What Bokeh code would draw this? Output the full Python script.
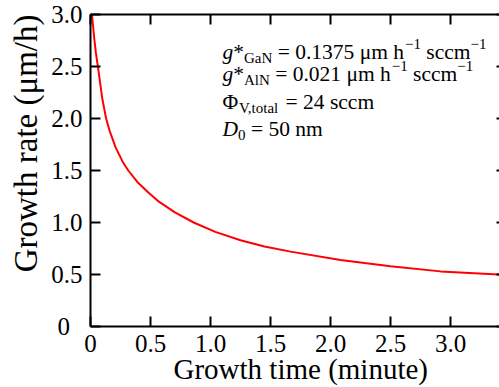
from bokeh.plotting import figure
from bokeh.models import Range1d, LinearAxis, FixedTicker, Label, Title
from bokeh.embed import file_html
from bokeh.resources import INLINE

# ---------------- data ----------------
time_min = [0.012, 0.033, 0.045, 0.064, 0.097, 0.13, 0.16, 0.21, 0.27, 0.315, 0.39, 0.48,
            0.57, 0.70, 0.86, 1.04, 1.25, 1.45, 1.667, 2.083, 2.5, 2.917, 3.4, 3.47]
growth_rate = [3.0, 2.75, 2.63, 2.48, 2.2, 2.0, 1.88, 1.72, 1.58, 1.5, 1.39, 1.29,
               1.2, 1.1, 1.0, 0.91, 0.83, 0.77, 0.72, 0.64, 0.58, 0.53, 0.50, 0.49]

x_ticks = [0, 0.5, 1.0, 1.5, 2.0, 2.5, 3.0]
x_tick_labels = ["0", "0.5", "1.0", "1.5", "2.0", "2.5", "3.0"]
y_ticks = [0, 0.5, 1.0, 1.5, 2.0, 2.5, 3.0]
y_tick_labels = ["0\u00a0\u00a0", "0.5", "1.0", "1.5", "2.0", "2.5", "3.0"]

x_title = "Growth time (minute)"
y_title = "Growth rate (μm/h)"

# annotation lines: (text, kind) kind: n=normal, i=italic, sub, sup
ann_lines = [
    [("g", "i"), ("*", "n"), ("GaN", "sub"), (" = 0.1375 μm h", "n"), ("−1", "sup"), (" sccm", "n"), ("−1", "sup")],
    [("g", "i"), ("*", "n"), ("AlN", "sub"), (" = 0.021 μm h", "n"), ("−1", "sup"), (" sccm", "n"), ("−1", "sup")],
    [("Φ", "n"), ("V,total", "sub"), (" = 24 sccm", "n")],
    [("D", "i"), ("0", "sub"), (" = 50 nm", "n")],
]

# ---------------- layout ----------------
FONT = "Liberation Serif"
W, H = 499, 387
FL, FT = 90, 14
FRAME_H = 312
FB = H - FT - FRAME_H
FRAME_W = W - FL
X_END = FRAME_W / 120.0
Y_END = 3.0


def px2x(px):
    return (px - FL) / FRAME_W * X_END


def px2y(py):
    return (FT + FRAME_H - py) / FRAME_H * Y_END


p = figure(width=W, height=H, x_range=Range1d(0, X_END), y_range=Range1d(0, Y_END),
           output_backend="svg", toolbar_location=None,
           min_border_left=FL, min_border_right=0, min_border_top=FT, min_border_bottom=FB)
p.outline_line_color = None
p.xgrid.visible = False
p.ygrid.visible = False
p.background_fill_color = "white"
p.border_fill_color = "white"

p.line(time_min, growth_rate, line_color="#ff0000", line_width=2)


def style(ax, ticks, labels, standoff, show_labels=True, line=True, tick_in=10):
    ax.ticker = FixedTicker(ticks=ticks)
    ax.major_label_overrides = {t: l for t, l in zip(ticks, labels)}
    ax.minor_tick_line_color = None
    ax.major_tick_in = tick_in
    ax.major_tick_out = 0
    ax.major_tick_line_width = 2
    ax.major_tick_line_color = "black"
    ax.axis_line_width = 2
    ax.axis_line_color = "black" if line else None
    ax.major_label_standoff = standoff
    ax.major_label_text_font = FONT
    ax.major_label_text_color = "black"
    if show_labels:
        ax.major_label_text_font_size = "25px"
    else:
        ax.major_label_text_font_size = "0px"
        ax.major_label_text_color = None


bottom = p.below[0]
left = p.left[0]
style(bottom, x_ticks, x_tick_labels, 8)
style(left, y_ticks, y_tick_labels, 8)
top = LinearAxis()
style(top, x_ticks, x_tick_labels, 0, show_labels=False)
p.add_layout(top, "above")
right = LinearAxis()
style(right, y_ticks, y_tick_labels, 0, show_labels=False, line=False, tick_in=3)
p.add_layout(right, "right")

# axis titles
p.add_layout(Title(text=x_title, align="left", offset=83, standoff=-7,
                   text_font=FONT, text_font_size="29px", text_font_style="normal",
                   text_color="black"), "below")
p.add_layout(Title(text=y_title, align="right", offset=0, standoff=10,
                   text_font=FONT, text_font_size="33px", text_font_style="normal",
                   text_color="black"), "left")

# annotation text with sub/superscripts
CW = {' ': 250, '*': 500, ',': 250, '.': 250, '/': 278, '=': 564, '−': 564,
      'A': 722, 'D': 722, 'G': 722, 'N': 722, 'V': 722, 'a': 444, 'c': 444,
      'e': 444, 'g': 500, 'h': 500, 'l': 278, 'm': 778, 'n': 500, 'o': 500,
      's': 389, 't': 278, 'μ': 576, 'Φ': 764}


def tw(s, size):
    return sum(CW.get(c, 500) for c in s) * size / 1000.0


MAIN, SMALL = 21.5, 15
SHIFT = {"n": 0, "i": 0, "sub": 6, "sup": -8}
ann_x0 = 222
ann_baselines = [51, 73, 101, 128]
for pieces, base in zip(ann_lines, ann_baselines):
    cur = 0.0
    for txt, kind in pieces:
        size = SMALL if kind in ("sub", "sup") else MAIN
        lead = len(txt) - len(txt.lstrip(" "))
        cur += lead * tw(" ", size)
        t = txt.strip(" ")
        p.add_layout(Label(x=px2x(ann_x0), y=px2y(base + SHIFT[kind]), x_offset=cur,
                           text=t, text_font=FONT, text_font_size=f"{size}px",
                           text_font_style="italic" if kind == "i" else "normal",
                           text_baseline="alphabetic", text_align="left", text_color="black"))
        cur += tw(t, size)

open("out.html", "w").write(file_html(p, INLINE))
